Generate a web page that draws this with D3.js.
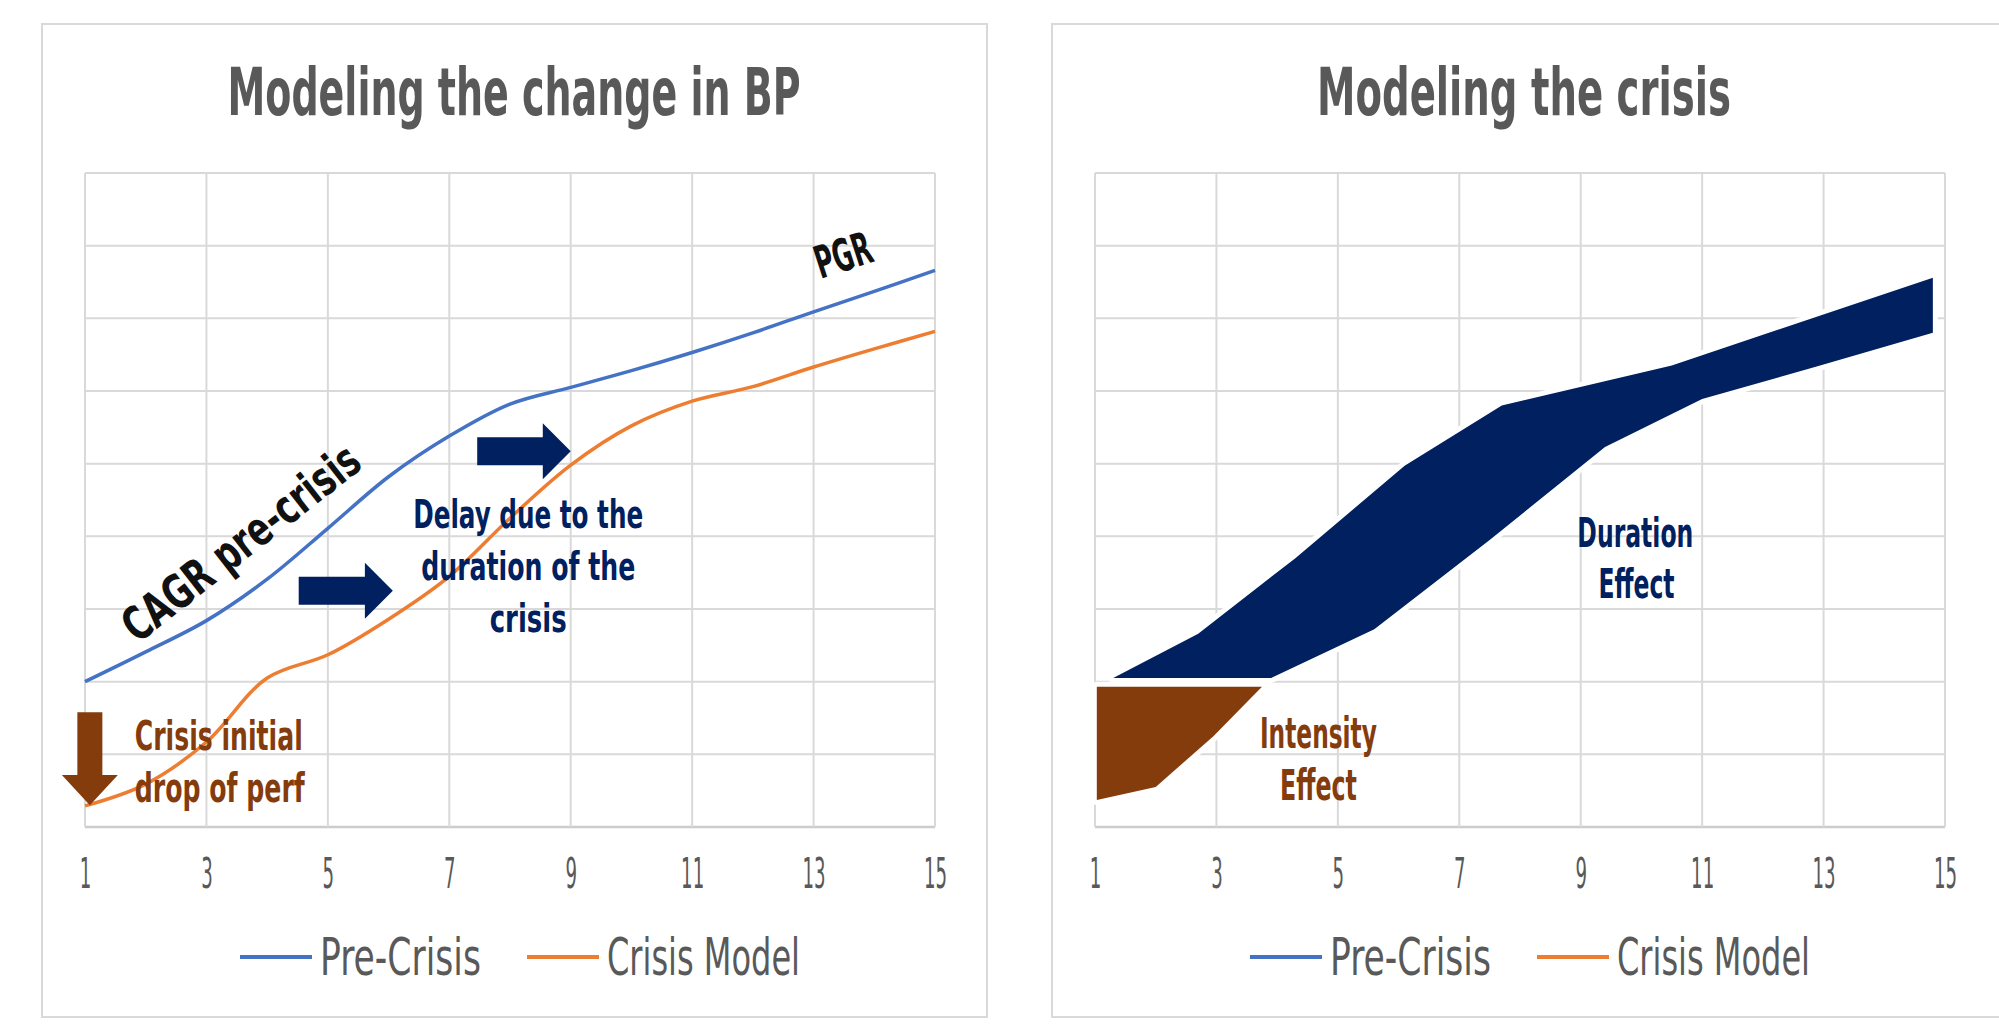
<!DOCTYPE html>
<html>
<head>
<meta charset="utf-8">
<script src="https://cdn.jsdelivr.net/npm/d3@7"></script>
<style>
  body { margin: 0; background: #fff; overflow: hidden; }
  svg text { font-family: "DejaVu Sans Condensed", "DejaVu Sans", sans-serif; }
</style>
</head>
<body>
<div id="plot"></div>
<script>
// x categories and gridline steps
const periods = [1, 2, 3, 4, 5, 6, 7, 8, 9, 10, 11, 12, 13, 14, 15];
const xTicks = [1, 3, 5, 7, 9, 11, 13, 15];
const yGrid = [0, 1, 2, 3, 4, 5, 6, 7, 8, 9];

// left chart: the two smoothed lines
const preCrisis = [2.00, 2.41, 2.84, 3.41, 4.11, 4.82, 5.38, 5.82, 6.05, 6.28, 6.53, 6.80, 7.09, 7.37, 7.66];
const crisisModel = [0.29, 0.59, 1.17, 2.05, 2.37, 2.86, 3.45, 4.25, 4.98, 5.52, 5.86, 6.06, 6.33, 6.58, 6.82];

// right chart: duration band (upper and lower edges) and intensity wedge
const durationUpperX = [1.3, 2.7, 4.3, 6.1, 7.7, 10.5, 14.8];
const durationUpper = [2.05, 2.66, 3.70, 4.97, 5.80, 6.35, 7.56];
const durationLowerX = [1.3, 3.9, 5.6, 7.5, 9.4, 11.0, 12.9, 14.8];
const durationLower = [2.05, 2.05, 2.72, 3.95, 5.23, 5.89, 6.34, 6.80];
const intensityX = [1.03, 2.0, 2.95, 3.75];
const intensityLower = [0.37, 0.55, 1.25, 1.93];
const intensityUpper = [1.93, 1.93, 1.93, 1.93];

const seriesNames = ['Pre-Crisis', 'Crisis Model'];
const seriesColors = ['#4472C4', '#ED7D31'];
const titles = ['Modeling the change in BP', 'Modeling the crisis'];

const navy = '#002060', brown = '#843C0C', grey = '#595959';

const width = 1999, height = 1024;
const svg = d3.select('#plot').append('svg')
  .attr('width', width)
  .attr('height', height);

// squeeze text to a given width (the original font is very condensed)
function fit(sel, w) {
  sel.each(function() {
    const target = typeof w === 'function' ? w(this) : w;
    this.setAttribute('textLength', target);
    this.setAttribute('lengthAdjust', 'spacingAndGlyphs');
  });
  return sel;
}

function addText(g, str, px, py, size, color, weight, anchor, w) {
  const t = g.append('text')
    .attr('x', px).attr('y', py)
    .attr('font-size', size)
    .attr('font-weight', weight)
    .attr('fill', color)
    .attr('text-anchor', anchor)
    .text(str);
  fit(t, w);
  return t;
}

function rightArrow(g, x, y, x0, x1, xTip, yc) {
  const cy = y(yc), a = x(x0), b = x(x1), c = x(xTip);
  g.append('path')
    .attr('d', `M${a},${cy - 14}L${b},${cy - 14}L${b},${cy - 28}L${c},${cy}L${b},${cy + 28}L${b},${cy + 14}L${a},${cy + 14}Z`)
    .attr('fill', navy);
}

function drawPanel(i) {
  const off = i * 1010;
  const g = svg.append('g');

  // second panel runs off the right edge of the picture
  g.append('rect')
    .attr('x', 42 + off).attr('y', 24)
    .attr('width', i === 0 ? 945 : 990).attr('height', 993)
    .attr('fill', '#fff')
    .attr('stroke', '#d9d9d9')
    .attr('stroke-width', 2);

  const x = d3.scaleLinear().domain([1, 15]).range([85 + off, 935 + off]);
  const y = d3.scaleLinear().domain([0, 9]).range([827, 173]);

  g.selectAll('.hgrid')
    .data(yGrid)
    .enter().append('line')
    .attr('x1', x(1)).attr('x2', x(15))
    .attr('y1', d => y(d)).attr('y2', d => y(d))
    .attr('stroke', d => d === 0 ? '#cccccc' : '#d9d9d9')
    .attr('stroke-width', d => d === 0 ? 2.5 : 2);

  g.selectAll('.vgrid')
    .data(xTicks)
    .enter().append('line')
    .attr('x1', d => x(d)).attr('x2', d => x(d))
    .attr('y1', y(9)).attr('y2', y(0))
    .attr('stroke', '#d9d9d9')
    .attr('stroke-width', 2);

  const ax = g.append('g')
    .attr('transform', `translate(0,${y(0)})`)
    .call(d3.axisBottom(x).tickValues(xTicks).tickSize(0));
  ax.select('.domain').remove();
  ax.selectAll('text')
    .attr('y', 61).attr('dy', null)
    .attr('font-size', 42)
    .attr('fill', grey)
    .attr('font-family', '"DejaVu Sans Condensed", "DejaVu Sans", sans-serif');
  fit(ax.selectAll('text'), el => el.getComputedTextLength() * 0.48);

  addText(g, titles[i], 514 + off, 115, 66, grey, 'bold', 'middle', i === 0 ? 573 : 414);

  // legend
  const legendX = [240, 527];
  const legendW = [161, 193];
  seriesNames.forEach((name, k) => {
    g.append('line')
      .attr('x1', legendX[k] + off).attr('x2', legendX[k] + 72 + off)
      .attr('y1', 957).attr('y2', 957)
      .attr('stroke', seriesColors[k])
      .attr('stroke-width', 4);
    addText(g, name, legendX[k] + 80 + off, 975, 51, grey, 'normal', 'start', legendW[k]);
  });

  return { g, x, y };
}

// ---- left chart ----
const L = drawPanel(0);

const line = d3.line()
  .x((d, i) => L.x(periods[i]))
  .y(d => L.y(d))
  .curve(d3.curveCatmullRom);

[preCrisis, crisisModel].forEach((s, k) => {
  L.g.append('path')
    .datum(s)
    .attr('d', line)
    .attr('fill', 'none')
    .attr('stroke', seriesColors[k])
    .attr('stroke-width', 3.5);
});

rightArrow(L.g, L.x, L.y, 4.52, 5.61, 6.07, 3.25);
rightArrow(L.g, L.x, L.y, 7.46, 8.54, 9.0, 5.17);

// down arrow for the initial drop
{
  const cx = L.x(1.08), top = L.y(1.58), neck = L.y(0.716), tip = L.y(0.30);
  L.g.append('path')
    .attr('d', `M${cx - 12.5},${top}L${cx + 12.5},${top}L${cx + 12.5},${neck}L${cx + 28},${neck}L${cx},${tip}L${cx - 28},${neck}L${cx - 12.5},${neck}Z`)
    .attr('fill', brown);
}

addText(L.g, 'Crisis initial', L.x(1.82), L.y(1.06), 41, brown, 'bold', 'start', 168);
addText(L.g, 'drop of perf', L.x(1.82), L.y(0.34), 41, brown, 'bold', 'start', 170);

addText(L.g, 'Delay due to the', L.x(8.30), L.y(4.11), 39, navy, 'bold', 'middle', 230);
addText(L.g, 'duration of the', L.x(8.30), L.y(3.40), 39, navy, 'bold', 'middle', 214);
addText(L.g, 'crisis', L.x(8.30), L.y(2.68), 39, navy, 'bold', 'middle', 77);

L.g.append('text')
  .attr('transform', `translate(${L.x(3.57)},${L.y(3.91)}) rotate(-38)`)
  .attr('y', 16)
  .attr('font-size', 47)
  .attr('font-weight', 'bold')
  .attr('fill', '#111')
  .attr('text-anchor', 'middle')
  .text('CAGR pre-crisis')
  .call(fit, 288);

L.g.append('text')
  .attr('transform', `translate(${L.x(13.49)},${L.y(7.86)}) rotate(-18)`)
  .attr('y', 15)
  .attr('font-size', 45)
  .attr('font-weight', 'bold')
  .attr('fill', '#111')
  .attr('text-anchor', 'middle')
  .text('PGR')
  .call(fit, 58);

// ---- right chart ----
const R = drawPanel(1);

const durationPts = durationUpperX.map((v, i) => [v, durationUpper[i]])
  .concat(durationLowerX.map((v, i) => [v, durationLower[i]]).reverse());

R.g.append('path')
  .attr('d', d3.line().x(d => R.x(d[0])).y(d => R.y(d[1]))(durationPts) + 'Z')
  .attr('fill', navy)
  .attr('stroke', '#fff')
  .attr('stroke-width', 10)
  .attr('stroke-linejoin', 'round')
  .attr('paint-order', 'stroke');

const wedge = d3.area()
  .x(d => R.x(d))
  .y0((d, i) => R.y(intensityUpper[i]))
  .y1((d, i) => R.y(intensityLower[i]));

R.g.append('path')
  .datum(intensityX)
  .attr('d', wedge)
  .attr('fill', brown)
  .attr('stroke', '#fff')
  .attr('stroke-width', 10)
  .attr('stroke-linejoin', 'round')
  .attr('paint-order', 'stroke');

addText(R.g, 'Duration', R.x(9.90), R.y(3.85), 41, navy, 'bold', 'middle', 116);
addText(R.g, 'Effect', R.x(9.92), R.y(3.15), 41, navy, 'bold', 'middle', 76);
addText(R.g, 'Intensity', R.x(4.68), R.y(1.09), 42, brown, 'bold', 'middle', 117);
addText(R.g, 'Effect', R.x(4.68), R.y(0.37), 42, brown, 'bold', 'middle', 77);
</script>
</body>
</html>
